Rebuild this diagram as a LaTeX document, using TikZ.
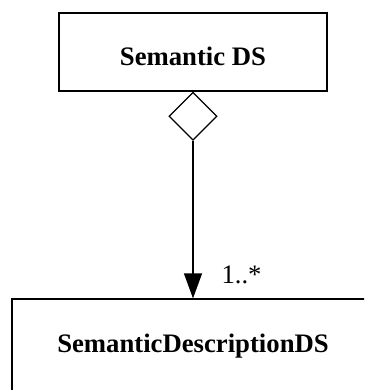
\documentclass[tikz,border=0pt]{standalone}
\usepackage{fontspec}
\setmainfont{Liberation Serif}
\usetikzlibrary{shapes.geometric,arrows.meta}

\tikzset{classbox/.style={draw,line width=1.2pt,rectangle,inner sep=0pt,font=\fontsize{26.7}{32}\selectfont\bfseries},
         aggmark/.style={draw,line width=1.2pt,diamond,aspect=1,minimum size=48pt,inner sep=0pt}}

\begin{document}
\begin{tikzpicture}[x=1pt,y=-1pt]
                  \clip (0,0) rectangle (364,390);
                  \useasboundingbox (0,0) rectangle (364,390);
                  \node[classbox,minimum width=268pt,minimum height=78pt,text height=28pt,text depth=0pt] (semantic) at (193,52) {Semantic DS};
                  \node[aggmark,anchor=north] (agg) at (semantic.south) {};
                  \node[classbox,minimum width=362pt,minimum height=110pt,text height=18pt,text depth=20.3pt] (description) at (193,354) {SemanticDescriptionDS};
                  \draw[line width=1.2pt,-{Triangle[width=18pt,length=25pt]}] (agg.south) -- (description.north);
                  \node[anchor=base west,font=\fontsize{26.7}{32}\selectfont] (mult) at (218,283) {1..*};
              \end{tikzpicture}
\end{document}
